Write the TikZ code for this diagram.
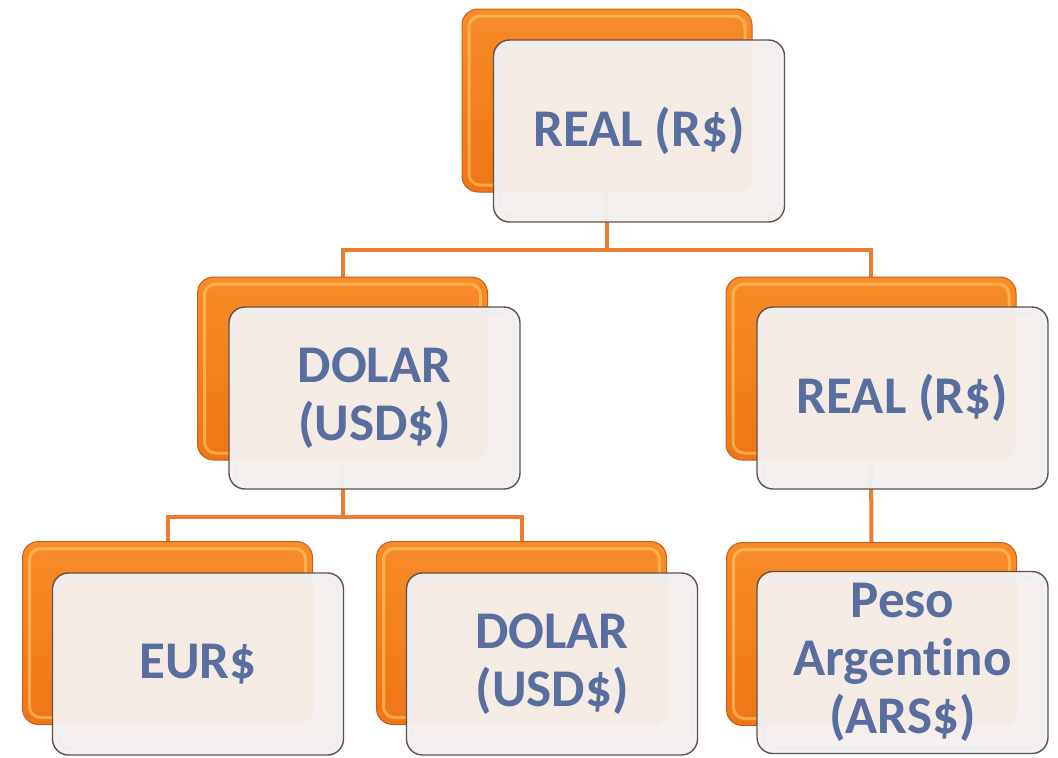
\documentclass[tikz,border=0pt]{standalone}
\usepackage{fontspec}
\setmainfont{Carlito}[Ligatures=NoCommon]
\pgfdeclarelayer{bg}
\pgfsetlayers{bg,main}
\definecolor{orangeTop}{RGB}{247,140,40}
\definecolor{orangeBot}{RGB}{238,118,22}
\definecolor{orangeEdge}{RGB}{196,96,28}
\definecolor{bevel}{RGB}{255,210,110}
\definecolor{cardFill}{RGB}{245,239,236}
\definecolor{cardEdge}{RGB}{96,82,74}
\definecolor{cardSheen}{RGB}{232,240,246}
\definecolor{label}{RGB}{89,110,158}
\definecolor{linkC}{RGB}{236,124,50}
\begin{document}
\begin{tikzpicture}[x=1pt,y=-1pt,
  back/.style={rectangle, rounded corners=16pt, minimum width=290pt, minimum height=183pt,
    inner sep=0pt, outer sep=0pt, top color=orangeTop, bottom color=orangeBot,
    draw=orangeEdge, line width=1pt},
  card/.style={rectangle, rounded corners=16pt, minimum width=291pt, minimum height=182pt,
    inner sep=0pt, outer sep=0pt, fill=cardFill, fill opacity=0.97, text opacity=1,
    draw=cardEdge, line width=1.4pt, text=label, align=center,
    font=\fontsize{53}{58}\selectfont\bfseries},
  link/.style={draw=linkC, line width=4pt},
  gloss/.style={draw=bevel, line width=3pt, opacity=0.55, rounded corners=11pt},
  sheen/.style={draw=cardSheen, line width=2.5pt, opacity=0.9, rounded corners=11pt}]
\useasboundingbox (0,0) rectangle (1058,758);

% orange back plates
\node[back] (o1) at (607,100.5) {};
\node[back] (o2) at (342.5,368.5) {};
\node[back] (o3) at (871,368.5) {};
\node[back] (o4) at (167.5,633) {};
\node[back] (o5) at (521.5,633) {};
\node[back] (o6) at (871.5,634) {};

% bevel highlight on the plates
\foreach \n in {o1,o2,o3,o4,o5,o6}
  \draw[gloss] ([shift={(7pt,-7pt)}]\n.north west) rectangle ([shift={(-7pt,7pt)}]\n.south east);

% connectors, behind everything
\coordinate (j1) at (607,250);
\coordinate (j2) at (342.5,517);
\begin{pgfonlayer}{bg}
  \draw[link] (o1.south) -- (j1) -| (o2.north);
  \draw[link] (j1) -| (o3.north);
  \draw[link] (o2.south) -- (j2) -| (o4.north);
  \draw[link] (j2) -| (o5.north);
  \draw[link] (o3.south) -- (o6.north);
\end{pgfonlayer}

% front cards with labels
\node[card] (f1) at (639,131) {REAL (R\$)};
\node[card] (f2) at (374.5,398) {DOLAR\\(USD\$)};
\node[card] (f3) at (902.5,398) {REAL (R\$)};
\node[card] (f4) at (198,664) {EUR\$};
\node[card] (f5) at (552,664) {DOLAR\\(USD\$)};
\node[card] (f6) at (902.5,662.5) {Peso\\Argent\kern0pt ino\\(ARS\$)};

% inner sheen on the cards
\foreach \n in {f1,f2,f3,f4,f5,f6}
  \draw[sheen] ([shift={(6pt,-6pt)}]\n.north west) rectangle ([shift={(-6pt,6pt)}]\n.south east);
\end{tikzpicture}
\end{document}
